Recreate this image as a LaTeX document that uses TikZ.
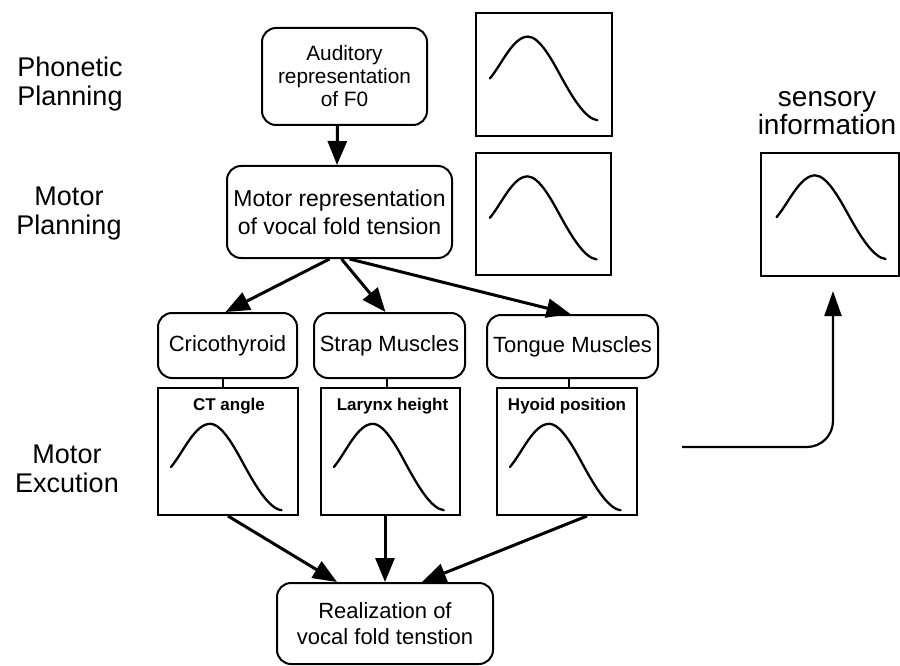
\documentclass[tikz,border=0pt]{standalone}
\usepackage{fontspec}
\setmainfont{Liberation Sans}
\usetikzlibrary{arrows.meta}
\tikzset{
  rbox/.style={draw, line width=2pt, rounded corners=14pt, align=center, inner sep=0pt},
  gbox/.style={draw, line width=2pt, inner sep=0pt},
  arr/.style={line width=3pt, -{Triangle[length=24pt,width=19pt]}},
  conn/.style={line width=2pt},
  sidelbl/.style={align=center, inner sep=0pt, font=\fontsize{27}{29}\selectfont},
  gtitle/.style={anchor=base, inner sep=0pt, font=\bfseries\fontsize{17}{20}\selectfont},
  pics/bump/.style n args={2}{code={
    \draw[line width=2.3pt, line cap=round, shift={(#1,#2)}]
      (0,0) .. controls (0.09,-0.12) and (0.17,-0.34) .. (0.28,-0.34)
            .. controls (0.37,-0.34) and (0.47,-0.12) .. (0.53,0.0)
            .. controls (0.6,0.14) and (0.7,0.33) .. (0.79,0.34);
  }}
}
\begin{document}
\begin{tikzpicture}[x=1pt,y=-1pt]
\useasboundingbox (0,0) rectangle (900,666);

% side labels
\node[sidelbl] (phon) at (70,84) {Phonetic\\Planning};
\node[sidelbl] (mplan) at (69,214) {Motor\\Planning};
\node[sidelbl] (mexe) at (67,469) {Motor\\Excution};
\node[sidelbl, font=\fontsize{28}{28.5}\selectfont] (sinfo) at (827,113) {sensory\\information};

% main boxes
\node[rbox, minimum width=165pt, minimum height=97pt, font=\fontsize{20.8}{23}\selectfont] (aud) at (344.5,76.5) {Auditory\\representation\\of F0};
\node[rbox, minimum width=225pt, minimum height=92pt, font=\fontsize{23}{28}\selectfont] (mot) at (339.5,212) {Motor representation\\of vocal fold tension};
\node[rbox, minimum width=139pt, minimum height=65pt, font=\fontsize{22}{26}\selectfont] (cri) at (227.5,345.5) {Cricothyroid};
\node[rbox, minimum width=151pt, minimum height=65pt, font=\fontsize{22}{26}\selectfont] (str) at (389.5,345.5) {Strap Muscles};
\node[rbox, minimum width=171pt, minimum height=63pt, font=\fontsize{22}{26}\selectfont] (ton) at (572.5,346.5) {Tongue Muscles};
\node[rbox, minimum width=216pt, minimum height=81pt, font=\fontsize{22}{26}\selectfont] (rea) at (385,623.5) {Realization of\\vocal fold tenstion};

% graph boxes
\node[gbox, minimum width=136pt, minimum height=123pt] (g1) at (544,74.5) {};
\node[gbox, minimum width=135pt, minimum height=122pt] (g2) at (543.5,214) {};
\node[gbox, minimum width=138pt, minimum height=123pt] (sens) at (830,214.5) {};
\node[gbox, minimum width=140pt, minimum height=127pt] (ct) at (228,451.5) {};
\node[gbox, minimum width=139pt, minimum height=127pt] (lar) at (390.5,451.5) {};
\node[gbox, minimum width=140pt, minimum height=127pt] (hyo) at (567,451.5) {};

% titles in lower graph boxes
\node[gtitle] (ctt) at ([xshift=1pt,yshift=-23pt]ct.north) {CT angle};
\node[gtitle] (lart) at ([xshift=2pt,yshift=-23pt]lar.north) {Larynx height};
\node[gtitle] (hyot) at ([xshift=0pt,yshift=-23pt]hyo.north) {Hyoid position};

% curves
\pic[x={(136pt,0pt)}, y={(0pt,-123pt)}] at (g1.north west) {bump={0.11}{0.54}};
\pic[x={(135pt,0pt)}, y={(0pt,-122pt)}] at (g2.north west) {bump={0.11}{0.54}};
\pic[x={(138pt,0pt)}, y={(0pt,-123pt)}] at (sens.north west) {bump={0.12}{0.53}};
\pic[x={(140pt,0pt)}, y={(0pt,-127pt)}] at (ct.north west) {bump={0.10}{0.63}};
\pic[x={(139pt,0pt)}, y={(0pt,-127pt)}] at (lar.north west) {bump={0.10}{0.63}};
\pic[x={(140pt,0pt)}, y={(0pt,-127pt)}] at (hyo.north west) {bump={0.10}{0.63}};

% connectors
\draw[arr] ([xshift=-7pt]aud.south) -- ([xshift=-2.5pt]mot.north);
\draw[arr] ([xshift=-10pt]mot.south) -- ([xshift=-2pt]cri.north);
\draw[arr] ([xshift=2pt]mot.south) -- ([xshift=-4pt]str.north);
\draw[arr] ([xshift=10pt]mot.south) -- ([xshift=-2pt]ton.north);

\draw[conn] ([xshift=-5pt]cri.south) -- ([xshift=-5pt]cri.south |- ct.north);
\draw[conn] ([xshift=-2.5pt]str.south) -- ([xshift=-2.5pt]str.south |- lar.north);
\draw[conn] ([xshift=-3.5pt]ton.south) -- ([xshift=-3.5pt]ton.south |- hyo.north);

\draw[arr] (ct.south) -- ([xshift=-48pt]rea.north);
\draw[arr] ([xshift=-5.5pt]lar.south) -- (rea.north);
\draw[arr] ([xshift=20pt]hyo.south) -- ([xshift=37pt]rea.north);

% feedback arrow
\coordinate (fb) at (682,447);
\draw[line width=2.2pt, rounded corners=26pt, -{Triangle[length=25pt,width=17pt]}]
  (fb) -| ([xshift=3pt,yshift=-14pt]sens.south);
\end{tikzpicture}
\end{document}
